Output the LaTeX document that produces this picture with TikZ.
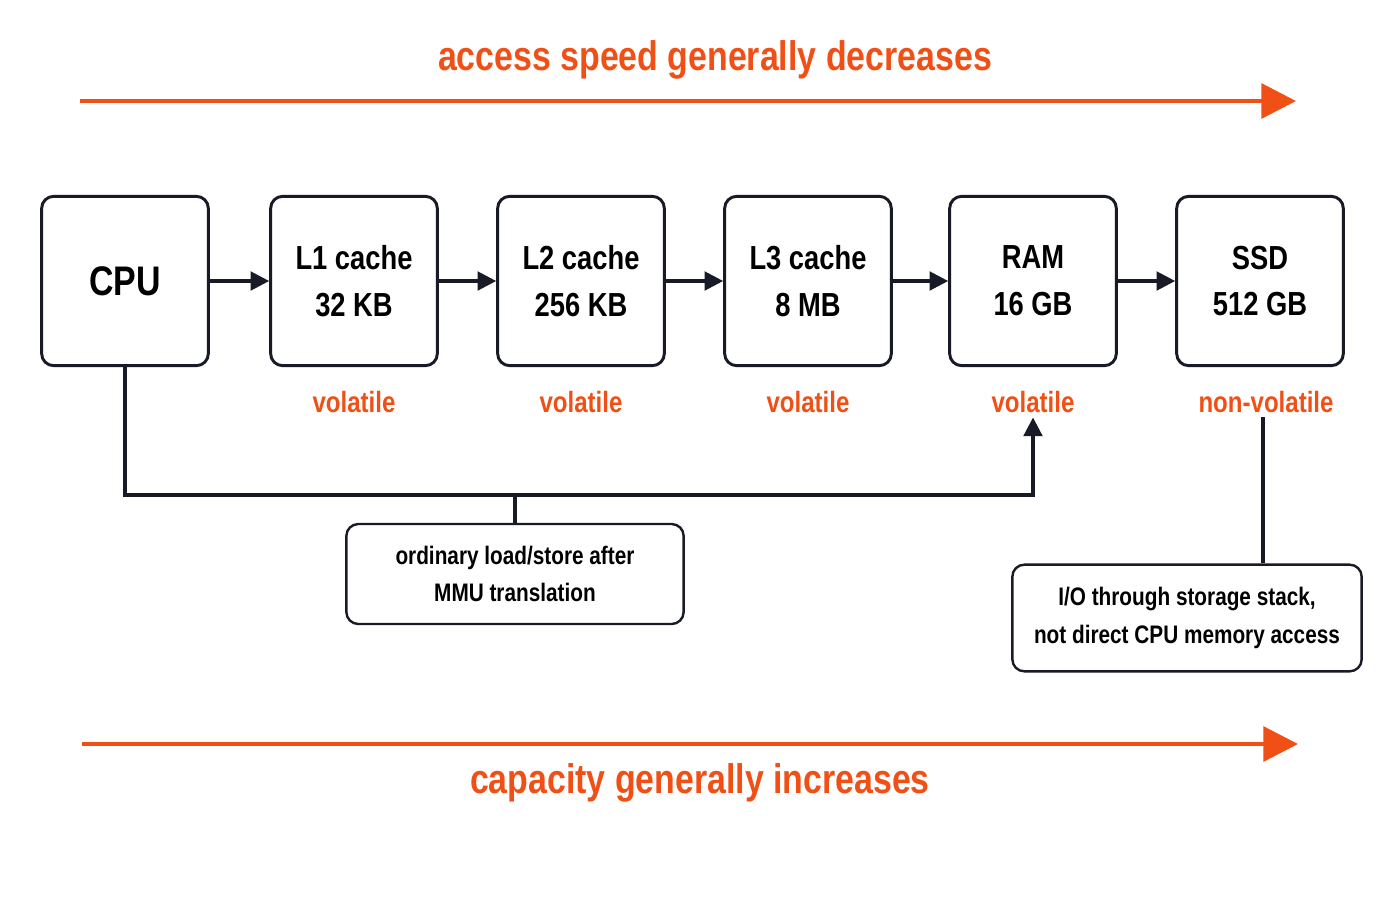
\documentclass[tikz,border=0pt]{standalone}
\usepackage{fontspec}
\setmainfont[FakeStretch=0.82]{Liberation Sans}
\usetikzlibrary{arrows.meta}
\definecolor{hiorange}{RGB}{240,80,22}
\definecolor{boxline}{RGB}{24,26,38}
\tikzset{
	memory/.style={draw=boxline, line width=2.2pt, rounded corners=9pt,
		minimum width=125pt, minimum height=127pt, align=center,
		font=\bfseries\fontsize{25}{35}\selectfont},
	note/.style={draw=boxline, line width=1.8pt, rounded corners=9pt,
		align=center, font=\bfseries\fontsize{19}{28}\selectfont},
	kind/.style={text=hiorange, font=\bfseries\fontsize{22}{26}\selectfont},
	flow/.style={draw=boxline, line width=2.4pt, -{Triangle[length=14pt,width=14pt]}},
	trend/.style={draw=hiorange, line width=3.2pt, -{Triangle[length=26pt,width=26pt]}}
}

\begin{document}
\begin{tikzpicture}[x=0.75pt,y=0.75pt,yscale=-1,xscale=1]
\useasboundingbox (0,0) rectangle (1400,900);

% trend arrows
\coordinate (topL) at (80,101);
\coordinate (topR) at (1296,101);
\coordinate (botL) at (82,744);
\coordinate (botR) at (1298,744);
\draw [trend] (topL) -- (topR);
\draw [trend] (botL) -- (botR);
\node (speed) [text=hiorange, font=\bfseries\fontsize{31}{34}\selectfont] at (715,60) {access speed generally decreases};
\node (capacity) [text=hiorange, font=\bfseries\fontsize{31}{34}\selectfont] at (700,783) {capacity generally increases};

% hierarchy
\node (cpu) [memory, font=\bfseries\fontsize{31}{36}\selectfont] at (125,281) {CPU};
\node (l1) [memory] at (354,281) {L1 cache\\32 KB};
\node (l2) [memory] at (581,281) {L2 cache\\256 KB};
\node (l3) [memory] at (808,281) {L3 cache\\8 MB};
\node (ram) [memory] at (1033,281) {RAM\\16 GB};
\node (ssd) [memory] at (1260,281) {SSD\\512 GB};

\draw [flow] (cpu) -- (l1);
\draw [flow] (l1) -- (l2);
\draw [flow] (l2) -- (l3);
\draw [flow] (l3) -- (ram);
\draw [flow] (ram) -- (ssd);

\node (v1) [kind] at (354,402) {volatile};
\node (v2) [kind] at (581,402) {volatile};
\node (v3) [kind] at (808,402) {volatile};
\node (v4) [kind] at (1033,402) {volatile};
\node (nv) [kind] at (1266,402) {non-volatile};

% access paths
\node (mmu) [note, minimum width=253pt, minimum height=75pt] at (515,574) {ordinary load/store after\\MMU translation};
\node (io) [note, minimum width=262pt, minimum height=80pt] at (1187,618) {I/O through storage stack,\\not direct CPU memory access};
\coordinate (bus) at (515,495);
\draw [flow] (cpu.south) |- (bus) -| (v4.south);
\draw [draw=boxline, line width=2.4pt] (bus) -- (mmu.north);
\draw [draw=boxline, line width=2.4pt] (nv.south -| 1263,0) -- (io.north -| 1263,0);

\end{tikzpicture}
\end{document}
